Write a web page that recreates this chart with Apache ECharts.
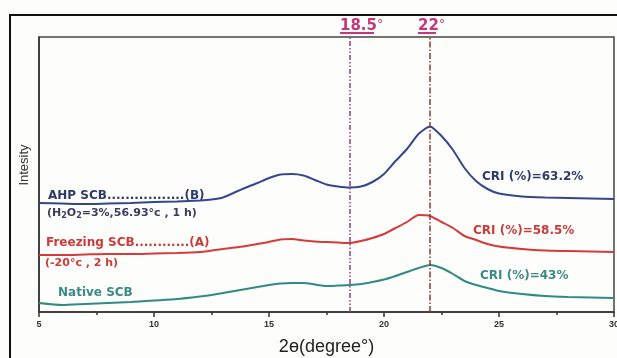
<!DOCTYPE html>
<html>
<head>
<meta charset="utf-8">
<script src="https://cdn.jsdelivr.net/npm/echarts@6/dist/echarts.min.js"></script>
<style>
html, body { margin: 0; padding: 0; background: #fdfdfb; }
#main { width: 617px; height: 358px; }
</style>
</head>
<body>
<div id="main"></div>
<script>
// 2theta (degree)
var twoTheta = [5, 6, 7, 8, 9, 10, 11, 12, 12.5, 13, 13.5, 14, 14.5, 15, 15.5, 16, 16.5, 17, 17.5, 18,
    18.5, 19, 19.5, 20, 20.5, 21, 21.5, 22, 22.5, 23, 23.5, 24, 24.5, 25, 26, 27, 28, 29, 30];
// intensity (a.u., stacked offsets as drawn)
var ahpScb = [109, 108.5, 108, 108.5, 109, 110, 110.5, 111.5, 112.5, 114.5, 119.5, 124.5, 129, 134, 137.5, 138, 136.5, 132, 127.5, 125.5,
    124.5, 125.5, 130, 138, 151, 163, 178, 185.5, 176, 162, 144, 131, 123, 118.5, 115.5, 114.5, 114, 113.5, 113];
var freezingScb = [57, 57, 57.5, 58, 58, 58.5, 59, 60, 61.5, 63, 64.5, 66, 68, 70, 72.5, 73, 71.5, 70.5, 70, 69.5,
    69, 71, 74, 78, 84, 90, 97, 96, 90, 84, 76, 72, 68, 65.5, 63, 61.5, 61, 60.5, 60];
var nativeScb = [9, 7, 8, 9, 10, 11.5, 13, 15.5, 17, 19, 21, 23, 25, 27, 28.5, 29, 29, 27.5, 26, 26.5,
    27, 28, 30, 32.5, 36, 40, 44, 47, 44, 38, 31, 27, 24, 21, 18, 16, 15, 14.5, 14];
var refLines = [18.5, 22];
var xTicks = [5, 10, 15, 20, 25, 30];

function pairs(ys) {
    var out = [];
    for (var i = 0; i < twoTheta.length; i++) {
        out.push([twoTheta[i], ys[i]]);
    }
    return out;
}

var chart = echarts.init(document.getElementById('main'));
var bold = 'bold 12px "DejaVu Sans", sans-serif';
var pink = '#c2387a';
var sub = '#3a3d5c';

var option = {
    backgroundColor: '#fdfdfb',
    animation: false,
    grid: {
        left: 39, right: 3, top: 37, bottom: 46,
        outerBoundsMode: 'none',
        containLabel: false,
        show: true, borderColor: '#444', borderWidth: 1.5
    },
    xAxis: {
        type: 'value',
        min: xTicks[0],
        max: xTicks[xTicks.length - 1],
        interval: 5,
        name: '2\u0275(degree\u00b0)',
        nameLocation: 'middle',
        nameGap: 26,
        nameTextStyle: { fontSize: 18, color: '#222', fontFamily: 'Liberation Sans' },
        axisLine: { show: true, lineStyle: { color: '#333', width: 1.5 } },
        axisTick: { show: true, length: 5, lineStyle: { color: '#333', width: 1.5 } },
        minorTick: { show: true, splitNumber: 2, length: 3, lineStyle: { color: '#333', width: 1.5 } },
        splitLine: { show: false },
        axisLabel: { fontSize: 9, fontWeight: 'bold', color: '#333', margin: 8, fontFamily: 'Liberation Sans' }
    },
    yAxis: {
        type: 'value',
        min: 0,
        max: 275,
        axisLine: { show: true, lineStyle: { color: '#333', width: 1.5 } },
        axisTick: { show: false },
        axisLabel: { show: false },
        splitLine: { show: false }
    },
    series: [
        {
            name: 'AHP SCB',
            type: 'line',
            data: pairs(ahpScb),
            smooth: 0.2,
            showSymbol: false,
            lineStyle: { color: '#35478c', width: 2 },
            markLine: {
                silent: true,
                symbol: 'none',
                label: { show: false },
                data: [
                    { xAxis: refLines[0], lineStyle: { color: '#8a3f86', width: 1.5, type: [5, 2, 1.5, 2, 1.5, 2] } },
                    { xAxis: refLines[1], lineStyle: { color: '#8b3a3a', width: 1.5, type: [6, 2, 1.5, 2] } }
                ]
            }
        },
        {
            name: 'Freezing SCB',
            type: 'line',
            data: pairs(freezingScb),
            smooth: 0.2,
            showSymbol: false,
            lineStyle: { color: '#d43c3c', width: 2 }
        },
        {
            name: 'Native SCB',
            type: 'line',
            data: pairs(nativeScb),
            smooth: 0.2,
            showSymbol: false,
            lineStyle: { color: '#2f8b83', width: 2 }
        }
    ],
    graphic: [
        // outer frame
        { type: 'rect', shape: { x: 10, y: 15, width: 700, height: 400 }, style: { fill: 'none', stroke: '#111', lineWidth: 2 }, silent: true },
        // y name
        { type: 'text', x: 24, y: 165, rotation: Math.PI / 2,
          style: { text: 'Intesity', font: '13px "Liberation Sans", sans-serif', fill: '#333', textAlign: 'center', textVerticalAlign: 'middle' } },
        // reference line labels
        { type: 'text', x: 340, y: 26, style: { text: '{u|18.5}{d|\u00b0}', rich: {
            u: { font: 'bold 15px "DejaVu Sans", sans-serif', fill: pink },
            d: { font: '13px "DejaVu Sans", sans-serif', fill: pink, verticalAlign: 'top' } },
            textVerticalAlign: 'middle' } },
        { type: 'line', shape: { x1: 340, y1: 33, x2: 374, y2: 33 }, style: { stroke: pink, lineWidth: 2 } },
        { type: 'text', x: 418, y: 26, style: { text: '{u|22}{d|\u00b0}', rich: {
            u: { font: 'bold 15px "DejaVu Sans", sans-serif', fill: pink },
            d: { font: '13px "DejaVu Sans", sans-serif', fill: pink, verticalAlign: 'top' } },
            textVerticalAlign: 'middle' } },
        { type: 'line', shape: { x1: 418, y1: 33, x2: 436, y2: 33 }, style: { stroke: pink, lineWidth: 2 } },
        // series labels
        { type: 'text', x: 48, y: 196, style: { text: 'AHP SCB.................(B)', font: bold, fill: '#2d3b6b', textVerticalAlign: 'middle' } },
        { type: 'text', x: 47, y: 213, style: {
            text: '{a|(H}{s|2}{a|O}{s|2}{a|=3%,56.93\u00b0c , 1 h)}',
            rich: {
                a: { font: 'bold 11px "DejaVu Sans", sans-serif', fill: sub, lineHeight: 14, verticalAlign: 'middle' },
                s: { font: 'bold 8px "DejaVu Sans", sans-serif', fill: sub, lineHeight: 8, verticalAlign: 'bottom' }
            },
            textVerticalAlign: 'middle' } },
        { type: 'text', x: 46, y: 243, style: { text: 'Freezing SCB............(A)', font: bold, fill: '#cc3a3a', textVerticalAlign: 'middle' } },
        { type: 'text', x: 45, y: 263, style: { text: '(-20\u00b0c , 2 h)', font: 'bold 11px "DejaVu Sans", sans-serif', fill: '#cc3a3a', textVerticalAlign: 'middle' } },
        { type: 'text', x: 58, y: 293, style: { text: 'Native SCB', font: bold, fill: '#3b8a86', textVerticalAlign: 'middle' } },
        { type: 'text', x: 482, y: 177, style: { text: 'CRI (%)=63.2%', font: bold, fill: '#2d3b6b', textVerticalAlign: 'middle' } },
        { type: 'text', x: 473, y: 231, style: { text: 'CRI (%)=58.5%', font: bold, fill: '#cc3a3a', textVerticalAlign: 'middle' } },
        { type: 'text', x: 480, y: 276, style: { text: 'CRI (%)=43%', font: bold, fill: '#3b8a86', textVerticalAlign: 'middle' } }
    ]
};

chart.setOption(option);
</script>
</body>
</html>
